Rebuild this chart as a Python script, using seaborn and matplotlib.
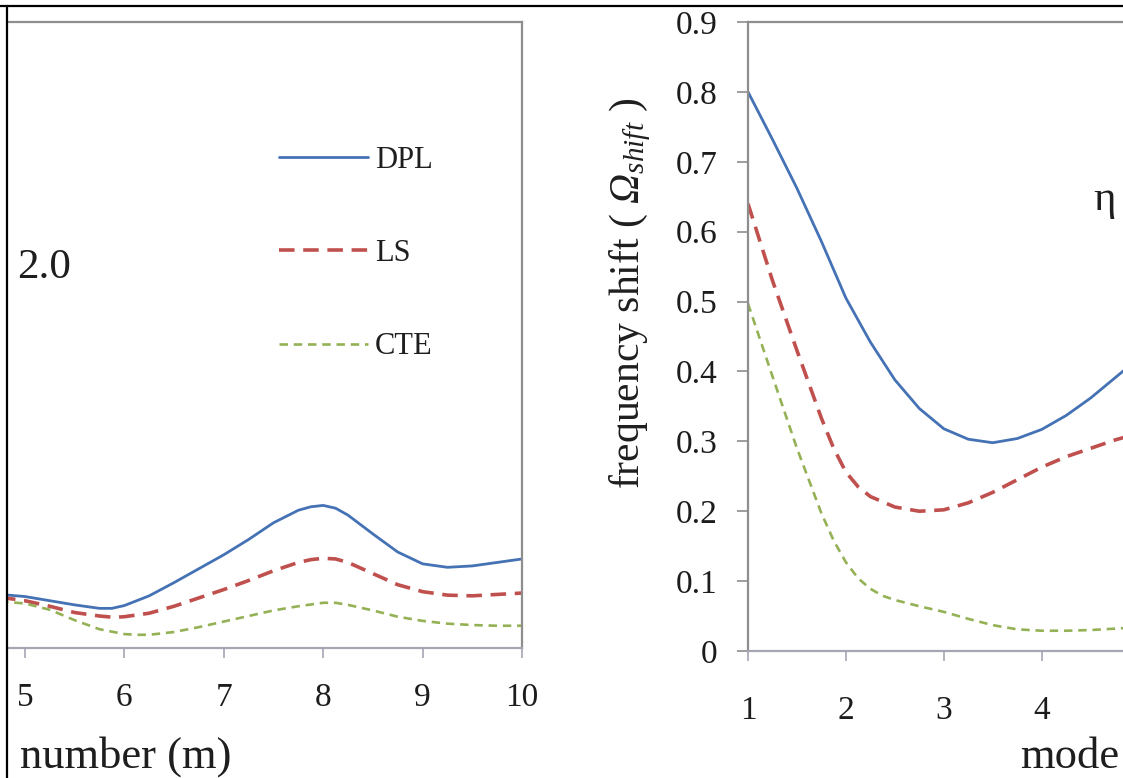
import matplotlib
matplotlib.use("Agg")
import matplotlib.pyplot as plt
from matplotlib.lines import Line2D
import seaborn as sns
import pandas as pd

# ---------------- data ----------------
series = ["DPL", "LS", "CTE"]

# left panel (visible part of mode number 4.83 .. 10)
left_dpl_m = [4.75, 5.0, 5.25, 5.5, 5.75, 5.875, 6.0, 6.25, 6.5, 6.75, 7.0, 7.25,
              7.5, 7.75, 7.875, 8.0, 8.125, 8.25, 8.5, 8.75, 9.0, 9.25, 9.5, 9.75, 10.0]
left_dpl = [0.077, 0.074, 0.068, 0.062, 0.057, 0.057, 0.061, 0.075, 0.094, 0.114,
            0.134, 0.156, 0.180, 0.198, 0.203, 0.205, 0.201, 0.191, 0.164, 0.138,
            0.121, 0.116, 0.118, 0.123, 0.128]
left_ls_m = [4.75, 5.0, 5.25, 5.5, 5.75, 5.9, 6.0, 6.25, 6.5, 6.75, 7.0, 7.25,
             7.5, 7.75, 7.875, 8.0, 8.125, 8.25, 8.5, 8.75, 9.0, 9.25, 9.5, 9.75, 10.0]
left_ls = [0.073, 0.068, 0.060, 0.051, 0.046, 0.044, 0.045, 0.050, 0.060, 0.072,
           0.084, 0.097, 0.111, 0.123, 0.127, 0.129, 0.128, 0.123, 0.107, 0.091,
           0.081, 0.076, 0.075, 0.077, 0.079]
left_cte_m = [4.75, 5.0, 5.25, 5.5, 5.75, 6.0, 6.125, 6.25, 6.5, 6.75, 7.0, 7.25,
              7.5, 7.75, 8.0, 8.125, 8.25, 8.5, 8.75, 9.0, 9.25, 9.5, 9.75, 10.0]
left_cte = [0.067, 0.064, 0.055, 0.040, 0.027, 0.020, 0.019, 0.019, 0.023, 0.030,
            0.038, 0.046, 0.054, 0.060, 0.065, 0.065, 0.062, 0.054, 0.045, 0.039,
            0.035, 0.033, 0.032, 0.032]

# right panel (visible part of mode number 1 .. 4.83)
right_dpl_m = [1.0, 1.25, 1.5, 1.75, 2.0, 2.25, 2.5, 2.75, 3.0, 3.25, 3.5, 3.75,
               4.0, 4.25, 4.5, 4.75, 5.0]
right_dpl = [0.800, 0.732, 0.662, 0.586, 0.505, 0.442, 0.388, 0.347, 0.318, 0.303,
             0.298, 0.304, 0.317, 0.337, 0.362, 0.391, 0.420]
right_ls_m = [1.0, 1.125, 1.25, 1.5, 1.75, 1.875, 2.0, 2.125, 2.25, 2.5, 2.75, 3.0,
              3.25, 3.5, 3.75, 4.0, 4.25, 4.5, 4.75, 5.0]
right_ls = [0.640, 0.585, 0.530, 0.430, 0.333, 0.290, 0.256, 0.235, 0.221, 0.206,
            0.200, 0.202, 0.212, 0.227, 0.245, 0.263, 0.278, 0.290, 0.302, 0.312]
right_cte_m = [1.0, 1.125, 1.25, 1.5, 1.75, 1.875, 2.0, 2.125, 2.25, 2.375, 2.5,
               2.75, 3.0, 3.25, 3.5, 3.75, 4.0, 4.25, 4.5, 4.75, 5.0]
right_cte = [0.497, 0.445, 0.393, 0.290, 0.197, 0.158, 0.127, 0.104, 0.089, 0.079,
             0.073, 0.064, 0.056, 0.046, 0.037, 0.031, 0.029, 0.029, 0.030, 0.032,
             0.034]

left_xticks = [5, 6, 7, 8, 9, 10]
right_xticks = [1, 2, 3, 4]
right_yticks = [0, 0.1, 0.2, 0.3, 0.4, 0.5, 0.6, 0.7, 0.8, 0.9]
right_yticklabels = ["0", "0.1", "0.2", "0.3", "0.4", "0.5", "0.6", "0.7", "0.8", "0.9"]

# ---------------- styles ----------------
palette = {"DPL": "#4472b5", "LS": "#c0504d", "CTE": "#94b255"}
sizes = {"DPL": 2.0, "LS": 2.6, "CTE": 1.9}
dashes = {"DPL": "", "LS": (4.3, 2.4), "CTE": (3.2, 2.2)}

sns.set_theme(style="white")
plt.rcParams["font.family"] = ["Liberation Serif", "DejaVu Serif"]
plt.rcParams["mathtext.fontset"] = "custom"
plt.rcParams["mathtext.rm"] = "Liberation Serif:italic"
plt.rcParams["mathtext.it"] = "Liberation Serif:italic"
plt.rcParams["mathtext.bf"] = "Liberation Serif:bold"
plt.rcParams["text.color"] = "#1e1e1e"

W, H = 1123, 778
fig = plt.figure(figsize=(W / 100, H / 100), dpi=100)
fig.patch.set_facecolor("white")


def box(x0, y0, x1, y1):
    return [x0 / W, 1 - y1 / H, (x1 - x0) / W, (y1 - y0) / H]


def long_frame(pairs):
    rows = []
    for name, (ms, vals) in zip(series, pairs):
        for x, v in zip(ms, vals):
            rows.append({"m": x, "v": v, "model": name})
    return pd.DataFrame(rows)


dfL = long_frame([(left_dpl_m, left_dpl), (left_ls_m, left_ls), (left_cte_m, left_cte)])
dfR = long_frame([(right_dpl_m, right_dpl), (right_ls_m, right_ls), (right_cte_m, right_cte)])

axL = fig.add_axes(box(8, 22, 522, 648))
axR = fig.add_axes(box(748, 22, 1123, 651))

for ax, df in [(axL, dfL), (axR, dfR)]:
    sns.lineplot(data=df, x="m", y="v", hue="model", style="model", size="model",
                 hue_order=series, style_order=series, size_order=series,
                 palette=palette, dashes=dashes, sizes=sizes,
                 legend=False, ax=ax, sort=True)
    ax.set_facecolor("white")
    ax.set_xlabel("")
    ax.set_ylabel("")
    ax.set_ylim(0, 0.9)

spine_c = "#8e8e8e"
axis_c = "#a4a6b4"
tick_c = "#1c1c1c"

# ---- left panel ----
axL.set_xlim(4.83, 10.0)
axL.set_xticks(left_xticks)
axL.set_yticks([])
axL.spines["left"].set_visible(False)
axL.spines["top"].set_color(spine_c)
axL.spines["right"].set_color(spine_c)
axL.spines["bottom"].set_color(axis_c)
for s in axL.spines.values():
    s.set_linewidth(1.6)
axL.tick_params(axis="x", direction="out", length=7, width=1.2, color=axis_c,
                labelsize=24, labelcolor=tick_c, pad=18, bottom=True)

# legend
handles = list(axL.get_lines()[:3])
axL.legend(handles, series, loc="upper left",
           bbox_to_anchor=(279 / W, 1 - 146 / H), bbox_transform=fig.transFigure,
           frameon=False, fontsize=22, handlelength=2.9, handletextpad=0.25,
           labelspacing=2.1, borderpad=0, borderaxespad=0)

axL.text((17 - 8) / 514, 1 - (268 - 22) / 626, "2.0", transform=axL.transAxes,
         fontsize=31, ha="left", va="center")

fig.text(20 / W, 1 - 757 / H, "number (m)", fontsize=32, ha="left", va="center")

# ---- right panel ----
axR.set_xlim(1.0, 1 + (1123 - 748) / 97.9)
axR.set_xticks(right_xticks)
axR.set_yticks(right_yticks)
axR.set_yticklabels(right_yticklabels)
axR.spines["right"].set_visible(False)
axR.spines["top"].set_color(spine_c)
axR.spines["left"].set_color(spine_c)
axR.spines["bottom"].set_color(axis_c)
for s in axR.spines.values():
    s.set_linewidth(1.6)
axR.tick_params(axis="y", direction="out", length=8, width=1.2, color=spine_c,
                labelsize=24, labelcolor=tick_c, pad=14, left=True)
axR.tick_params(axis="x", direction="out", length=7, width=1.2, color=axis_c,
                labelsize=24, labelcolor=tick_c, pad=25, bottom=True)

axR.text((1105 - 748) / 375, 1 - (200 - 22) / 629, "η", transform=axR.transAxes,
         fontsize=31, ha="center", va="center")

fig.text(1020 / W, 1 - 757 / H, "mode", fontsize=32, ha="left", va="center")
fig.text(630 / W, 1 - 293 / H, r"frequency shift ( $\Omega_{shift}$ )",
         fontsize=30, rotation=90, ha="center", va="center")

# outer black frame of the cropped figure
fig.add_artist(Line2D([0, 1], [1 - 6 / H, 1 - 6 / H], transform=fig.transFigure,
                      color="black", lw=1.6))
fig.add_artist(Line2D([7 / W, 7 / W], [0, 1 - 6 / H], transform=fig.transFigure,
                      color="black", lw=1.6))

fig.savefig("out.png", dpi=100, facecolor="white")
